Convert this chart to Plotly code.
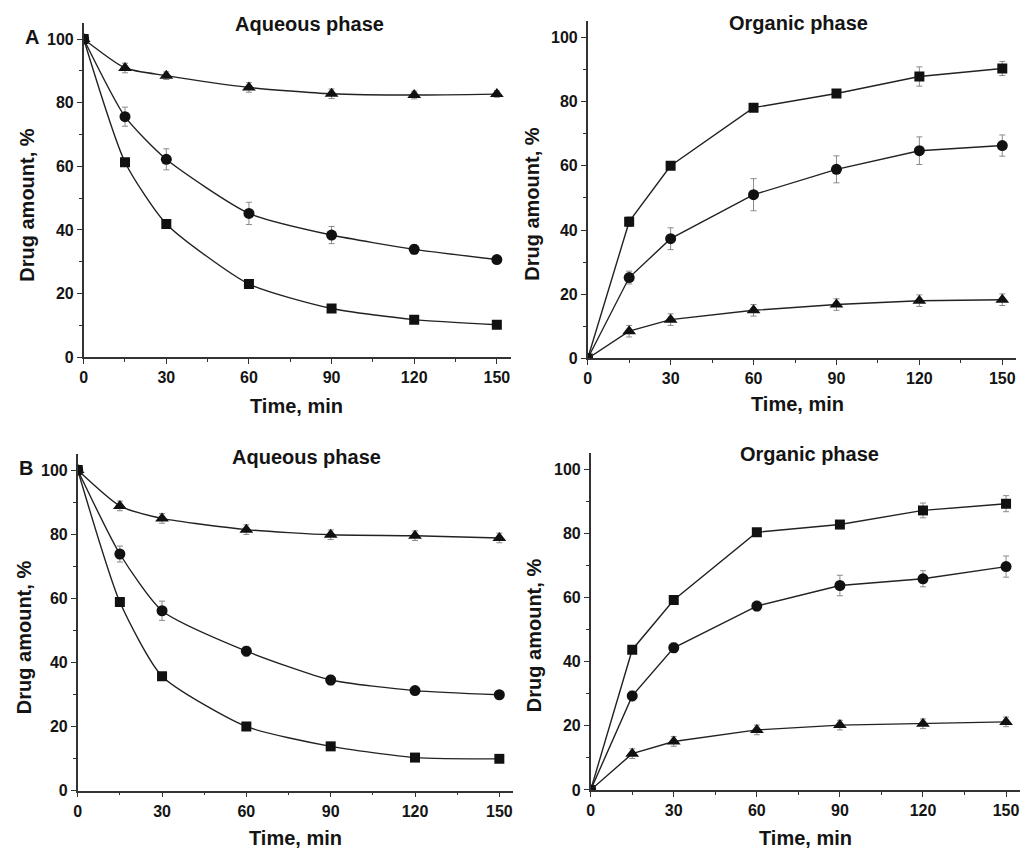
import plotly.graph_objects as go

W, H = 1020, 856

time_min = [0, 15, 30, 60, 90, 120, 150]

# Panel A - aqueous phase
a_aq_sq = [100, 61.3, 41.9, 23.0, 15.3, 11.8, 10.2]
a_aq_ci = [100, 75.6, 62.2, 45.2, 38.4, 33.9, 30.7]
a_aq_tr = [100, 90.9, 88.5, 84.8, 82.8, 82.4, 82.7]
a_aq_sq_err = [0, 1.0, 1.0, 1.0, 1.0, 1.0, 0.8]
a_aq_ci_err = [0, 3.0, 3.3, 3.5, 2.7, 1.5, 1.0]
a_aq_tr_err = [0, 1.5, 1.2, 1.5, 1.5, 1.2, 1.0]

# Panel A - organic phase
a_org_sq = [0, 42.6, 60.0, 78.1, 82.5, 87.8, 90.3]
a_org_ci = [0, 25.2, 37.3, 51.0, 58.9, 64.7, 66.3]
a_org_tr = [0, 8.5, 12.1, 15.0, 16.8, 18.0, 18.3]
a_org_sq_err = [0, 1.5, 1.0, 1.0, 1.0, 3.0, 2.2]
a_org_ci_err = [0, 2.0, 3.4, 5.0, 4.2, 4.3, 3.3]
a_org_tr_err = [0, 1.8, 1.8, 1.8, 1.8, 1.8, 1.8]

# Panel B - aqueous phase
b_aq_sq = [100, 58.8, 35.7, 20.0, 13.8, 10.3, 9.9]
b_aq_ci = [100, 73.8, 56.1, 43.5, 34.5, 31.2, 29.9]
b_aq_tr = [100, 88.8, 84.9, 81.4, 79.8, 79.5, 78.8]
b_aq_sq_err = [0, 1.0, 1.0, 1.0, 1.0, 1.0, 1.0]
b_aq_ci_err = [0, 2.5, 3.0, 1.5, 1.5, 1.0, 1.0]
b_aq_tr_err = [0, 1.5, 1.5, 1.5, 1.5, 1.5, 1.5]

# Panel B - organic phase
b_org_sq = [0, 43.7, 59.2, 80.3, 82.7, 87.1, 89.2]
b_org_ci = [0, 29.3, 44.3, 57.3, 63.7, 65.8, 69.6]
b_org_tr = [0, 11.3, 15.1, 18.7, 20.2, 20.6, 21.2]
b_org_sq_err = [0, 1.0, 1.0, 1.0, 1.0, 2.3, 2.5]
b_org_ci_err = [0, 1.5, 1.5, 1.5, 3.2, 2.5, 3.3]
b_org_tr_err = [0, 1.5, 1.5, 1.5, 1.5, 1.5, 1.5]

panel_titles = ["Aqueous phase", "Organic phase", "Aqueous phase", "Organic phase"]
x_title = "Time, min"
y_title = "Drug amount, %"
panel_letters = ["A", "B"]

FONT = "Liberation Sans, Arial, sans-serif"
INK = "#141414"

fig = go.Figure()

panels = [
    (a_aq_sq, a_aq_ci, a_aq_tr, a_aq_sq_err, a_aq_ci_err, a_aq_tr_err, "spline"),
    (a_org_sq, a_org_ci, a_org_tr, a_org_sq_err, a_org_ci_err, a_org_tr_err, "linear"),
    (b_aq_sq, b_aq_ci, b_aq_tr, b_aq_sq_err, b_aq_ci_err, b_aq_tr_err, "spline"),
    (b_org_sq, b_org_ci, b_org_tr, b_org_sq_err, b_org_ci_err, b_org_tr_err, "linear"),
]

symbols = ["square", "circle", "triangle-up"]
sizes = [10, 11, 12]

for i, (sq, ci, tr, sqe, cie, tre, shape) in enumerate(panels):
    xa = "x" if i == 0 else f"x{i+1}"
    ya = "y" if i == 0 else f"y{i+1}"
    for vals, errs, sym, sz in zip([sq, ci, tr], [sqe, cie, tre], symbols, sizes):
        line = dict(color="#222222", width=1.4, shape=shape)
        if shape == "spline":
            line["smoothing"] = 0.6
        fig.add_trace(go.Scatter(
            x=time_min, y=vals, xaxis=xa, yaxis=ya,
            mode="lines+markers",
            line=line,
            marker=dict(symbol=sym, size=sz, color="#111111"),
            error_y=dict(type="data", array=errs, visible=True,
                         color="#8a8a8a", thickness=1, width=3),
            showlegend=False, hoverinfo="x+y",
        ))

# panel geometry in pixels: (x0, x_end, y_bottom, y_top)
geom = [
    (80, 508.6, 361, 23.4),
    (586, 1016.1, 362.3, 21.5),
    (74, 511.4, 799, 458.8),
    (589, 1019.9, 798.3, 457.8),
]

axis_common = dict(
    showline=True, linecolor="#333333", linewidth=1.5,
    ticks="outside", ticklen=5, tickwidth=1.4, tickcolor="#333333",
    showgrid=False, zeroline=False, mirror=False,
    tickfont=dict(family=FONT, size=16, color=INK, weight="bold"),
)

layout = {}
for i, (x0, x1, yb, yt) in enumerate(geom):
    xk = "xaxis" if i == 0 else f"xaxis{i+1}"
    yk = "yaxis" if i == 0 else f"yaxis{i+1}"
    xa = "x" if i == 0 else f"x{i+1}"
    ya = "y" if i == 0 else f"y{i+1}"
    layout[xk] = dict(
        axis_common, domain=[x0 / W, min(x1 / W, 1.0)], anchor=ya,
        range=[0, 155], tickmode="linear", tick0=0, dtick=30,
        minor=dict(ticks="outside", ticklen=3, tickwidth=1.2, tickcolor="#333333", dtick=15, tick0=0),
    )
    layout[yk] = dict(
        axis_common, domain=[1 - yb / H, 1 - yt / H], anchor=xa,
        range=[0, 105], tickmode="linear", tick0=0, dtick=20,
        minor=dict(ticks="outside", ticklen=3, tickwidth=1.2, tickcolor="#333333", dtick=10, tick0=0),
    )

def ann(text, px, py, size=20, angle=0):
    return dict(text=text, x=px / W, y=1 - py / H, xref="paper", yref="paper",
                xanchor="center", yanchor="middle", showarrow=False, textangle=angle,
                font=dict(family=FONT, size=size, color=INK, weight="bold"))

annotations = [
    ann(panel_titles[0], 307, 24),
    ann(panel_titles[1], 798, 23),
    ann(panel_titles[2], 304, 462),
    ann(panel_titles[3], 809, 459),
    ann(x_title, 294, 410),
    ann(x_title, 797, 408),
    ann(x_title, 293, 847),
    ann(x_title, 805, 847),
    ann(y_title, 23, 207, angle=-90),
    ann(y_title, 530, 206, angle=-90),
    ann(y_title, 20, 644, angle=-90),
    ann(y_title, 532, 642, angle=-90),
    ann(panel_letters[0], 28, 37),
    ann(panel_letters[1], 22, 473),
]

fig.update_layout(
    width=W, height=H,
    margin=dict(l=0, r=0, t=0, b=0),
    paper_bgcolor="white", plot_bgcolor="white",
    annotations=annotations,
    **layout,
)

fig.write_html("out.html")
